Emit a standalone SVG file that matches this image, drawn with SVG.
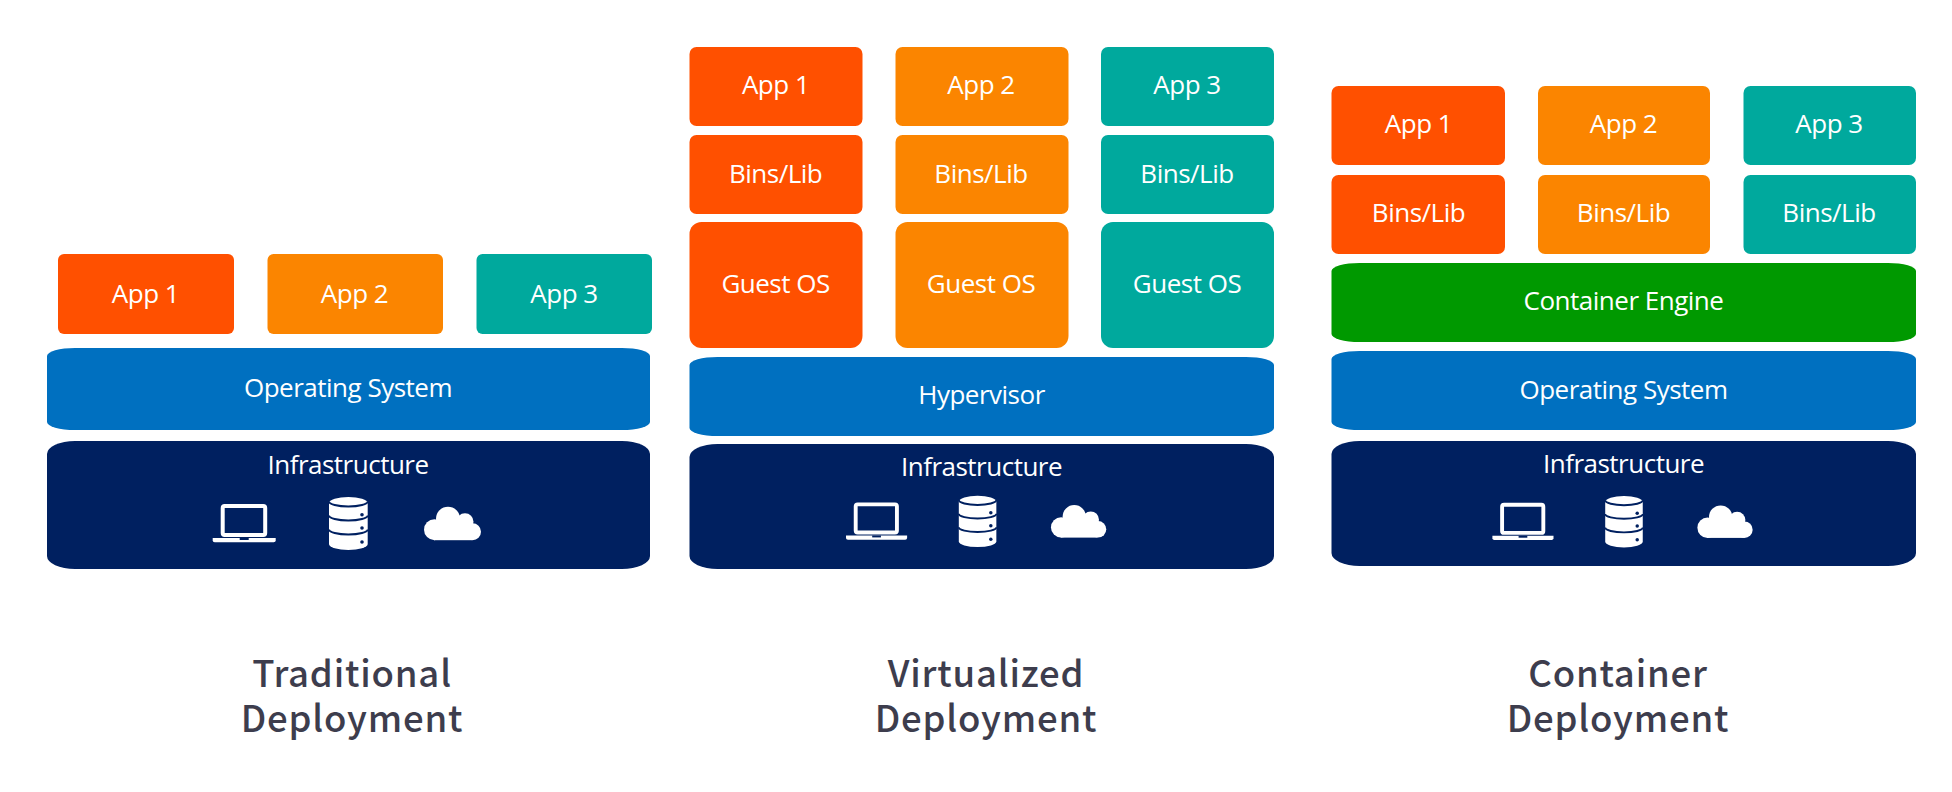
<svg xmlns="http://www.w3.org/2000/svg" width="1952" height="792" viewBox="0 0 1952 792">
<style>
.r{fill:#FF5000}.o{fill:#FB8500}.t{fill:#00A99D}.b{fill:#0070C0}.n{fill:#002060}.g{fill:#009900}
text{font-family:"Open Sans","Noto Sans","Liberation Sans",sans-serif;text-anchor:middle;fill:#fff;font-size:26px;letter-spacing:-.5px}
text.h{font-family:"Noto Sans CJK KR","Noto Sans",sans-serif;font-weight:500;font-size:36.5px;fill:#3D3D4D;letter-spacing:.8px}
</style>
<defs>
<g id="icons">
<rect x="10" y="9" width="42.5" height="29" rx="2" fill="none" stroke="#fff" stroke-width="4"/>
<path d="M0 41H63V43.500Q63 45.300 61 45.300H2Q0 45.300 0 43.500Z" fill="#fff"/>
<rect x="27" y="41" width="9" height="2" fill="#002060"/>
<g transform="translate(116.300 0)">
<path d="M0 6A19.350 6 0 0 1 38.700 6V47A19.350 6 0 0 1 0 47Z" fill="#fff"/>
<path d="M0 4.500A19.350 5 0 0 0 38.700 4.500M0 18.500A19.350 5 0 0 0 38.700 18.500M0 32.500A19.350 5 0 0 0 38.700 32.500" fill="none" stroke="#002060" stroke-width="2"/>
<circle cx="33" cy="17.700" r="1.800" fill="#002060"/><circle cx="33" cy="31" r="1.800" fill="#002060"/><circle cx="33" cy="45" r="1.800" fill="#002060"/>
</g>
<g transform="translate(211.300 9.700)" fill="#fff">
<circle cx="24" cy="12" r="12"/><circle cx="41" cy="15" r="8.500"/><circle cx="10.500" cy="23" r="10.500"/><circle cx="48.500" cy="25" r="8.500"/>
<rect x="10" y="18" width="38" height="15.500"/>
</g>
</g>
</defs>
<rect width="1952" height="792" fill="#fff"/>

<g id="trad-app1"><rect class="r" x="58" y="254" width="176" height="80" rx="6"/><text x="145.500" y="302.500">App 1</text></g>
<g id="trad-app2"><rect class="o" x="267.500" y="254" width="175.500" height="80" rx="6"/><text x="354.500" y="302.500">App 2</text></g>
<g id="trad-app3"><rect class="t" x="476.500" y="254" width="175.500" height="80" rx="6"/><text x="564" y="302.500">App 3</text></g>
<g id="trad-os"><rect class="b" x="47" y="348" width="603" height="82" rx="28" ry="8"/><text x="348" y="396.500">Operating System</text></g>
<g id="trad-infra"><rect class="n" x="47" y="441" width="603" height="128" rx="28" ry="13"/><text x="348" y="473.500">Infrastructure</text><use href="#icons" transform="translate(212.700 497)"/></g>
<g id="trad-title"><text class="h" x="352" y="687">Traditional</text><text class="h" x="352" y="732">Deployment</text></g>

<g id="virt-app1"><rect class="r" x="689.500" y="47" width="173" height="79" rx="7"/><text x="775.600" y="94">App 1</text></g>
<g id="virt-app2"><rect class="o" x="895.500" y="47" width="173" height="79" rx="7"/><text x="981" y="94">App 2</text></g>
<g id="virt-app3"><rect class="t" x="1101" y="47" width="173" height="79" rx="7"/><text x="1187" y="94">App 3</text></g>
<g id="virt-bins1"><rect class="r" x="689.500" y="135" width="173" height="79" rx="7"/><text x="775.600" y="182.500">Bins/Lib</text></g>
<g id="virt-bins2"><rect class="o" x="895.500" y="135" width="173" height="79" rx="7"/><text x="981" y="182.500">Bins/Lib</text></g>
<g id="virt-bins3"><rect class="t" x="1101" y="135" width="173" height="79" rx="7"/><text x="1187" y="182.500">Bins/Lib</text></g>
<g id="virt-guest1"><rect class="r" x="689.500" y="222" width="173" height="126" rx="12"/><text x="775.600" y="292.500">Guest OS</text></g>
<g id="virt-guest2"><rect class="o" x="895.500" y="222" width="173" height="126" rx="12"/><text x="981" y="292.500">Guest OS</text></g>
<g id="virt-guest3"><rect class="t" x="1101" y="222" width="173" height="126" rx="12"/><text x="1187" y="292.500">Guest OS</text></g>
<g id="virt-hyper"><rect class="b" x="689.500" y="357" width="584.500" height="79" rx="28" ry="8"/><text x="981.500" y="404">Hypervisor</text></g>
<g id="virt-infra"><rect class="n" x="689.500" y="444" width="584.500" height="125" rx="28" ry="13"/><text x="981.500" y="476">Infrastructure</text><use href="#icons" transform="translate(846 495.700) scale(.97)"/></g>
<g id="virt-title"><text class="h" x="986" y="687">Virtualized</text><text class="h" x="986" y="732">Deployment</text></g>

<g id="cont-app1"><rect class="r" x="1331.500" y="86" width="173.500" height="79" rx="7"/><text x="1418.500" y="133">App 1</text></g>
<g id="cont-app2"><rect class="o" x="1538" y="86" width="172" height="79" rx="7"/><text x="1623.500" y="133">App 2</text></g>
<g id="cont-app3"><rect class="t" x="1743.500" y="86" width="172.500" height="79" rx="7"/><text x="1829" y="133">App 3</text></g>
<g id="cont-bins1"><rect class="r" x="1331.500" y="175" width="173.500" height="79" rx="7"/><text x="1418.500" y="222">Bins/Lib</text></g>
<g id="cont-bins2"><rect class="o" x="1538" y="175" width="172" height="79" rx="7"/><text x="1623.500" y="222">Bins/Lib</text></g>
<g id="cont-bins3"><rect class="t" x="1743.500" y="175" width="172.500" height="79" rx="7"/><text x="1829" y="222">Bins/Lib</text></g>
<g id="cont-engine"><rect class="g" x="1331.500" y="263" width="584.500" height="79" rx="28" ry="8"/><text x="1623.500" y="310">Container Engine</text></g>
<g id="cont-os"><rect class="b" x="1331.500" y="351" width="584.500" height="79" rx="28" ry="8"/><text x="1623.500" y="398.500">Operating System</text></g>
<g id="cont-infra"><rect class="n" x="1331.500" y="441" width="584.500" height="125" rx="28" ry="13"/><text x="1623.500" y="473">Infrastructure</text><use href="#icons" transform="translate(1492.400 496) scale(.97)"/></g>
<g id="cont-title"><text class="h" x="1618" y="687">Container</text><text class="h" x="1618" y="732">Deployment</text></g>
</svg>
